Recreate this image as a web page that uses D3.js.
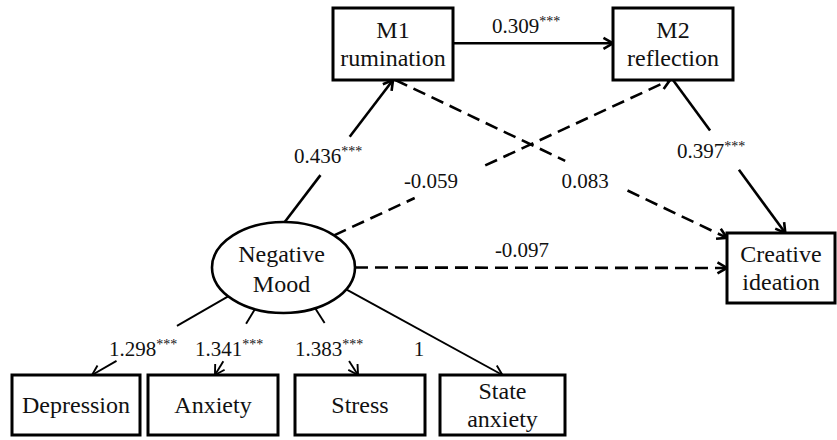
<!DOCTYPE html>
<html>
<head>
<meta charset="utf-8">
<script src="https://cdn.jsdelivr.net/npm/d3@7"></script>
<style>
  html, body { margin: 0; padding: 0; background: #fff; }
  svg { display: block; }
</style>
</head>
<body>
<svg id="diagram" width="837" height="440"></svg>
<script>
// ---- values ----
var indicators = ["Depression", "Anxiety", "Stress", "State anxiety"];
var loadings = [1.298, 1.341, 1.383, 1];
var loadingSig = ["***", "***", "***", ""];

var nodeIds = ["M1", "M2", "Creative", "Mood"];
var nodeLabels = [["M1", "rumination"], ["M2", "reflection"], ["Creative", "ideation"], ["Negative", "Mood"]];

var pathFrom = ["Mood", "M1", "Mood", "Mood", "M2", "M1"];
var pathTo = ["M1", "M2", "M2", "Creative", "Creative", "Creative"];
var pathCoef = [0.436, 0.309, -0.059, -0.097, 0.397, 0.083];
var pathSig = ["***", "***", "", "", "***", ""];

// ---- layout (where things sit on the page) ----
var boxes = {
  "M1": {x: 333, y: 8, w: 120, h: 72},
  "M2": {x: 613, y: 8, w: 120, h: 72},
  "Creative": {x: 727, y: 233, w: 108, h: 70},
  "Depression": {x: 12, y: 375, w: 128, h: 60},
  "Anxiety": {x: 148, y: 375, w: 130, h: 60},
  "Stress": {x: 295, y: 375, w: 130, h: 60},
  "State anxiety": {x: 440, y: 375, w: 125, h: 60}
};
var mood = {cx: 283.5, cy: 267.5, rx: 71.5, ry: 45.5};

// anchor on start / end node, gap left for the label (fraction along line), label spot
var edgeLayout = {
  "Mood>M1":       {from: -89, to: ["bottom", 0.5],  gap: [0.33, 0.6],   label: [328, 163]},
  "M1>M2":         {from: ["right", 0.49], to: ["left", 0.49], gap: null, label: [526, 33]},
  "Mood>M2":       {from: -45, to: ["bottom", 0.475], gap: [0.24, 0.45], label: [431, 188]},
  "Mood>Creative": {from: 0, to: ["left", 0.5],     gap: null,           label: [522, 257]},
  "M2>Creative":   {from: ["bottom", 0.5], to: ["top", 0.54], gap: [0.33, 0.587], label: [711, 158]},
  "M1>Creative":   {from: ["bottom", 0.52], to: ["left", 0.07], gap: [0.512, 0.70], label: [585, 188]}
};
var loadLayout = [
  {from: 140.7, to: ["top", 0.625], gap: [0.376, 0.82], label: [143, 356]},
  {from: 113.6, to: ["top", 0.515], gap: [0.22, 0.79], label: [229, 356]},
  {from: 63.7,  to: ["top", 0.485], gap: [0.22, 0.79], label: [329, 356]},
  {from: 28.7,  to: ["top", 0.5],   gap: null,         label: [419, 356]}
];

var FONT = "'Liberation Serif', 'Times New Roman', Times, serif";

var svg = d3.select("#diagram")
  .attr("font-family", FONT);
var fmt = d3.formatLocale({decimal: ".", thousands: ",", grouping: [3], currency: ["", ""], minus: "-"}).format(".3f");

function anchor(node, spec) {
  if (node === "Mood") {
    var a = spec * Math.PI / 180;
    return [mood.cx + mood.rx * Math.cos(a), mood.cy + mood.ry * Math.sin(a)];
  }
  var b = boxes[node], side = spec[0], f = spec[1];
  if (side === "top") return [b.x + b.w * f, b.y];
  if (side === "bottom") return [b.x + b.w * f, b.y + b.h];
  if (side === "left") return [b.x, b.y + b.h * f];
  return [b.x + b.w, b.y + b.h * f];
}

function lerp(p, q, t) { return [p[0] + (q[0] - p[0]) * t, p[1] + (q[1] - p[1]) * t]; }

function drawEdge(g, p, q, gap, dashed, width) {
  var segs = gap ? [[p, lerp(p, q, gap[0])], [lerp(p, q, gap[1]), q]] : [[p, q]];
  var line = d3.line();
  g.selectAll(null)
    .data(segs)
    .enter()
    .append("path")
      .attr("d", d => line(d))
      .attr("fill", "none")
      .attr("stroke", "#000")
      .attr("stroke-width", width)
      .attr("stroke-dasharray", dashed ? "13,7" : null);

  // open arrow head
  var dx = q[0] - p[0], dy = q[1] - p[1], len = Math.hypot(dx, dy);
  var ux = dx / len, uy = dy / len, s = 11, ang = 30 * Math.PI / 180;
  var rot = function(a) {
    return [q[0] - s * (ux * Math.cos(a) - uy * Math.sin(a)), q[1] - s * (ux * Math.sin(a) + uy * Math.cos(a))];
  };
  g.append("path")
    .attr("d", line([rot(ang), q, rot(-ang)]))
    .attr("fill", "none")
    .attr("stroke", "#000")
    .attr("stroke-width", width)
    .attr("stroke-linejoin", "miter");
}

function coefLabel(g, pos, value, stars) {
  var t = g.append("text")
    .attr("x", pos[0])
    .attr("y", pos[1])
    .attr("text-anchor", "middle")
    .attr("font-family", FONT)
    .attr("font-size", 21)
    .attr("fill", "#111");
  t.append("tspan").text(value);
  if (stars) {
    t.append("tspan")
      .attr("dy", -7)
      .attr("font-size", 14)
      .text(stars);
  }
}

// structural paths
var edges = svg.append("g");
pathFrom.forEach(function(f, i) {
  var lay = edgeLayout[f + ">" + pathTo[i]];
  var p = anchor(f, lay.from), q = anchor(pathTo[i], lay.to);
  drawEdge(edges, p, q, lay.gap, pathSig[i] === "", 2.6);
  coefLabel(edges, lay.label, fmt(pathCoef[i]), pathSig[i]);
});

// measurement paths
indicators.forEach(function(name, i) {
  var lay = loadLayout[i];
  var p = anchor("Mood", lay.from), q = anchor(name, lay.to);
  drawEdge(edges, p, q, lay.gap, false, 1.9);
  coefLabel(edges, lay.label, loadings[i] === 1 ? "1" : fmt(loadings[i]), loadingSig[i]);
});

// boxes
var boxIds = ["M1", "M2", "Creative"].concat(indicators);
var boxLines = [nodeLabels[0], nodeLabels[1], nodeLabels[2], ["Depression"], ["Anxiety"], ["Stress"], ["State", "anxiety"]];

var nodes = svg.append("g")
  .selectAll("g")
  .data(boxIds)
  .enter()
  .append("g");

nodes.append("rect")
  .attr("x", d => boxes[d].x)
  .attr("y", d => boxes[d].y)
  .attr("width", d => boxes[d].w)
  .attr("height", d => boxes[d].h)
  .attr("fill", "#fff")
  .attr("stroke", "#000")
  .attr("stroke-width", 3);

nodes.each(function(d, i) {
  var b = boxes[d], lines = boxLines[i];
  var lh = 28;
  var y0 = b.y + b.h / 2 - (lines.length - 1) * lh / 2 + 8;
  d3.select(this).selectAll("text")
    .data(lines)
    .enter()
    .append("text")
      .attr("x", b.x + b.w / 2)
      .attr("y", (l, j) => y0 + j * lh)
      .attr("text-anchor", "middle")
      .attr("font-family", FONT)
      .attr("font-size", 24)
      .attr("fill", "#111")
      .text(l => l);
});

// latent variable
svg.append("ellipse")
  .attr("cx", mood.cx)
  .attr("cy", mood.cy)
  .attr("rx", mood.rx)
  .attr("ry", mood.ry)
  .attr("fill", "#fff")
  .attr("stroke", "#000")
  .attr("stroke-width", 2.6);

svg.append("g")
  .selectAll("text")
  .data(nodeLabels[3])
  .enter()
  .append("text")
    .attr("x", mood.cx - 2)
    .attr("y", (l, j) => mood.cy - 6 + j * 30)
    .attr("text-anchor", "middle")
    .attr("font-family", FONT)
    .attr("font-size", 24)
    .attr("fill", "#111")
    .text(l => l);
</script>
</body>
</html>
